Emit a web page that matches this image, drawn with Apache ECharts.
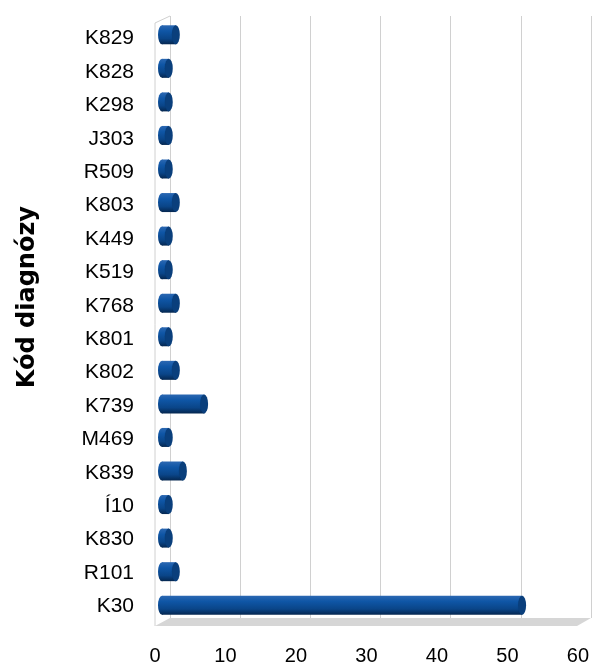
<!DOCTYPE html>
<html>
<head>
<meta charset="utf-8">
<script src="https://cdn.jsdelivr.net/npm/echarts@6/dist/echarts.min.js"></script>
<style>
  html, body { margin: 0; padding: 0; background: #fff; }
  #chart { width: 592px; height: 666px; }
</style>
</head>
<body>
<div id="chart"></div>
<script>
// categories listed bottom -> top (category axis starts at bottom)
const codes = ['K30', 'R101', 'K830', 'Í10', 'K839', 'M469', 'K739', 'K802', 'K801',
  'K768', 'K519', 'K449', 'K803', 'R509', 'J303', 'K298', 'K828', 'K829']
const counts = [51, 2, 1, 1, 3, 1, 6, 2, 1, 2, 1, 1, 2, 1, 1, 1, 1, 2]
const axisTitle = 'Kód diagnózy'
const xMin = 0
const xMax = 60
const xStep = 10

const chart = echarts.init(document.getElementById('chart'))

const bodyColor = new echarts.graphic.LinearGradient(0, 0, 0, 1, [
  { offset: 0, color: '#2c68b2' },
  { offset: 0.3, color: '#0f56a6' },
  { offset: 0.7, color: '#0a4588' },
  { offset: 1, color: '#052750' }
])

const option = {
  backgroundColor: '#ffffff',
  animation: false,
  graphic: [
    // floor
    {
      type: 'polygon',
      shape: { points: [[155, 626], [170, 618], [591, 618], [577, 626]] },
      style: { fill: '#d6d6d6' },
      z: 0
    },
    // left wall edges
    {
      type: 'polyline',
      shape: { points: [[155, 626], [155, 23], [170, 16]] },
      style: { stroke: '#d0d0d0', lineWidth: 1, fill: null },
      z: 0
    },
    {
      type: 'text',
      left: 16,
      top: 206,
      rotation: Math.PI / 2,
      style: {
        text: axisTitle,
        font: 'bold 24px "DejaVu Sans", sans-serif',
        fill: '#000'
      }
    }
  ],
  grid: [
    // back wall (split lines)
    { left: 170, right: 1, top: 16, bottom: 48 },
    // bars at mid depth
    { left: 162, right: 6, top: 18, bottom: 44 },
    // front (tick labels)
    { left: 155, right: 14, top: 22, bottom: 40 }
  ],
  xAxis: [
    {
      gridIndex: 0, type: 'value', min: xMin, max: xMax, interval: xStep,
      axisLabel: { show: false }, axisLine: { show: false }, axisTick: { show: false },
      splitLine: { show: true, lineStyle: { color: '#d0d0d0', width: 1 } }
    },
    {
      gridIndex: 1, type: 'value', min: xMin, max: xMax, interval: xStep,
      axisLabel: { show: false }, axisLine: { show: false }, axisTick: { show: false },
      splitLine: { show: false }
    },
    {
      gridIndex: 2, type: 'value', min: xMin, max: xMax, interval: xStep,
      axisLine: { show: false }, axisTick: { show: false }, splitLine: { show: false },
      axisLabel: {
        margin: 23,
        color: '#000',
        fontSize: 20,
        fontFamily: '"Liberation Sans", Arial, sans-serif'
      }
    }
  ],
  yAxis: [
    {
      gridIndex: 0, type: 'category', data: codes, show: false
    },
    {
      gridIndex: 1, type: 'category', data: codes, show: false
    },
    {
      gridIndex: 2, type: 'category', data: codes,
      axisLine: { show: false }, axisTick: { show: false },
      axisLabel: {
        margin: 21,
        color: '#000',
        fontSize: 21,
        fontFamily: '"Liberation Sans", Arial, sans-serif'
      }
    }
  ],
  series: [
    {
      type: 'bar',
      xAxisIndex: 1,
      yAxisIndex: 1,
      data: counts,
      barWidth: 19,
      barGap: '-100%',
      itemStyle: { color: bodyColor },
      z: 2
    },
    {
      // rounded left end
      type: 'pictorialBar',
      xAxisIndex: 1,
      yAxisIndex: 1,
      data: counts,
      symbol: 'circle',
      symbolSize: [8, 19],
      symbolPosition: 'start',
      symbolOffset: ['-50%', 0],
      barWidth: 19,
      barGap: '-100%',
      itemStyle: { color: bodyColor },
      z: 3
    },
    {
      // end cap
      type: 'pictorialBar',
      xAxisIndex: 1,
      yAxisIndex: 1,
      data: counts,
      symbol: 'circle',
      symbolSize: [8, 19],
      symbolPosition: 'end',
      symbolOffset: ['50%', 0],
      barWidth: 19,
      barGap: '-100%',
      itemStyle: { color: '#0a3f7c', borderColor: '#03204a', borderWidth: 1 },
      z: 4
    }
  ]
}

chart.setOption(option)
window.addEventListener('resize', () => chart.resize())
</script>
</body>
</html>
